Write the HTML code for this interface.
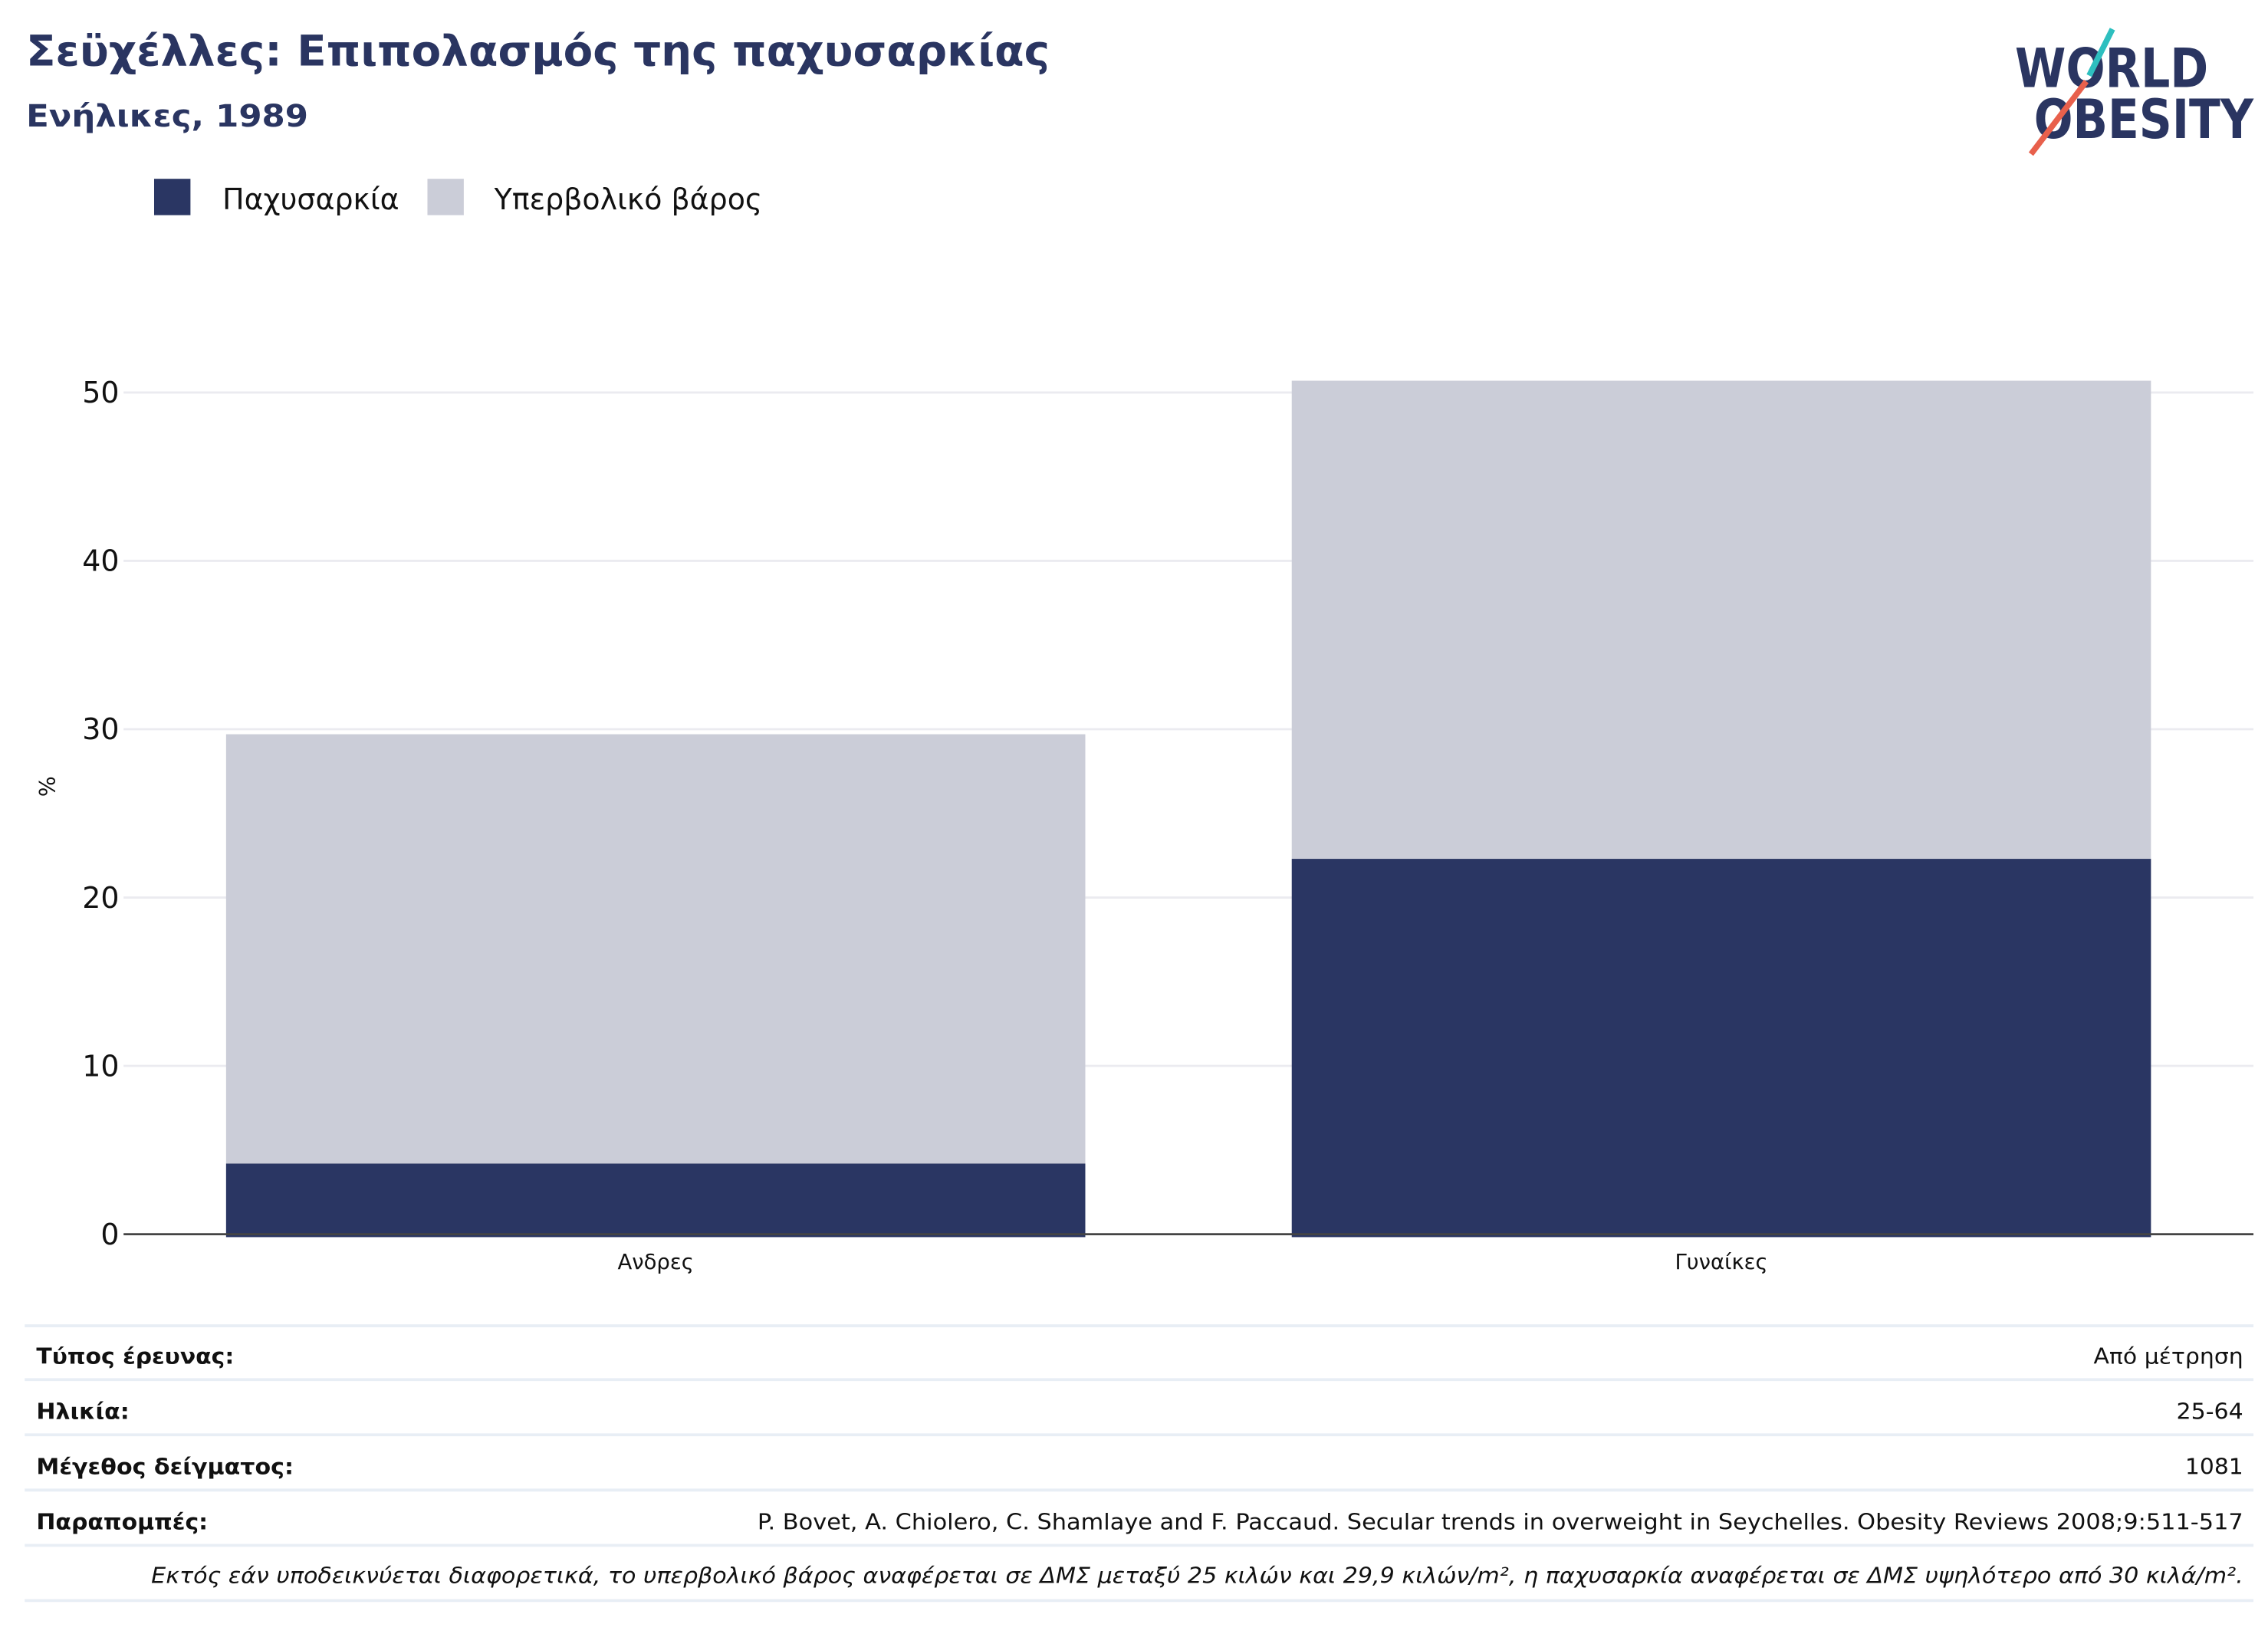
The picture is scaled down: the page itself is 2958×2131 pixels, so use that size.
<!DOCTYPE html>
<html><head><meta charset="utf-8"><style>
html,body{margin:0;padding:0;background:#fff;}
svg{display:block;font-family:"DejaVu Sans","Liberation Sans",sans-serif;}
</style></head><body>
<svg id="chart" width="2958" height="2131" viewBox="0 0 1560 1124" preserveAspectRatio="none" xmlns="http://www.w3.org/2000/svg">
<text x="18" y="45" font-size="29" font-weight="bold" fill="#2a3561" textLength="704" lengthAdjust="spacingAndGlyphs">Σεϋχέλλες: Επιπολασμός της παχυσαρκίας</text>
<text x="18" y="87" font-size="21" font-weight="bold" fill="#2a3561" textLength="194" lengthAdjust="spacingAndGlyphs">Ενήλικες, 1989</text>
<g>
<text x="1386" y="60" font-size="37" font-weight="bold" fill="#2a3561" textLength="133" lengthAdjust="spacingAndGlyphs">WORLD</text>
<text x="1399" y="95" font-size="37" font-weight="bold" fill="#2a3561" textLength="151" lengthAdjust="spacingAndGlyphs">OBESITY</text>
<line x1="1453" y1="20" x2="1437" y2="52" stroke="#2ebfbf" stroke-width="4"/>
<line x1="1435" y1="56" x2="1397" y2="106" stroke="#e8604c" stroke-width="4"/>
</g>
<g>
<rect x="106" y="123" width="25" height="25" fill="#2a3663"/>
<text x="153" y="144" font-size="20" fill="#111">Παχυσαρκία</text>
<rect x="294" y="123" width="25" height="25" fill="#cbcdd8"/>
<text x="340" y="144" font-size="20" fill="#111">Υπερβολικό βάρος</text>
</g>
<g id="plot"></g>
<text transform="translate(38,541) rotate(-90)" text-anchor="middle" font-size="15" fill="#111">%</text>
<g font-size="15" fill="#111">
<line x1="17" y1="912" x2="1550" y2="912" stroke="#e8eef5" stroke-width="2"/>
<line x1="17" y1="949" x2="1550" y2="949" stroke="#e8eef5" stroke-width="2"/>
<line x1="17" y1="987" x2="1550" y2="987" stroke="#e8eef5" stroke-width="2"/>
<line x1="17" y1="1025" x2="1550" y2="1025" stroke="#e8eef5" stroke-width="2"/>
<line x1="17" y1="1063" x2="1550" y2="1063" stroke="#e8eef5" stroke-width="2"/>
<line x1="17" y1="1101" x2="1550" y2="1101" stroke="#e8eef5" stroke-width="2"/>
<text x="25" y="938" font-weight="bold" textLength="136" lengthAdjust="spacingAndGlyphs">Τύπος έρευνας:</text>
<text x="1543" y="938" text-anchor="end" textLength="103" lengthAdjust="spacingAndGlyphs">Από μέτρηση</text>
<text x="25" y="976" font-weight="bold" textLength="64" lengthAdjust="spacingAndGlyphs">Ηλικία:</text>
<text x="1543" y="976" text-anchor="end" textLength="46" lengthAdjust="spacingAndGlyphs">25-64</text>
<text x="25" y="1014" font-weight="bold" textLength="177" lengthAdjust="spacingAndGlyphs">Μέγεθος δείγματος:</text>
<text x="1543" y="1014" text-anchor="end" textLength="40" lengthAdjust="spacingAndGlyphs">1081</text>
<text x="25" y="1052" font-weight="bold" textLength="118" lengthAdjust="spacingAndGlyphs">Παραπομπές:</text>
<text x="1543" y="1052" text-anchor="end" textLength="1022" lengthAdjust="spacingAndGlyphs">P. Bovet, A. Chiolero, C. Shamlaye and F. Paccaud. Secular trends in overweight in Seychelles. Obesity Reviews 2008;9:511-517</text>
<text x="1543" y="1089" text-anchor="end" font-style="italic" font-size="15" textLength="1439" lengthAdjust="spacingAndGlyphs">Εκτός εάν υποδεικνύεται διαφορετικά, το υπερβολικό βάρος αναφέρεται σε ΔΜΣ μεταξύ 25 κιλών και 29,9 κιλών/m², η παχυσαρκία αναφέρεται σε ΔΜΣ υψηλότερο από 30 κιλά/m².</text>
</g>
</svg>
<script>
const categories = ["Ανδρες", "Γυναίκες"];
const obesity = [4.2, 22.3];
const overweight = [25.5, 28.4];
const yTicks = [0, 10, 20, 30, 40, 50];

const NS = "http://www.w3.org/2000/svg";
const plot = document.getElementById("plot");
const y0 = 849, yPerUnit = (849 - 270) / 50;
function yScale(v) { return y0 - v * yPerUnit; }
const bandStart = 85, bandWidth = 733, barW = 591;
function xBand(i) { return bandStart + i * bandWidth + (bandWidth - barW) / 2 - 0.5; }
function mk(tag, attrs) { const e = document.createElementNS(NS, tag); for (const k in attrs) e.setAttribute(k, attrs[k]); plot.appendChild(e); return e; }

yTicks.forEach(t => {
  if (t !== 0) {
    const g = mk("line", {x1: 85, x2: 1550, y1: yScale(t), y2: yScale(t), stroke: "#ebebf0", "stroke-width": 1.5});
    
    
  }
  const l = mk("text", {x: 82, y: yScale(t) + 7, "text-anchor": "end", "font-size": 20, fill: "#111"});
  l.textContent = t;
  
  
});

categories.forEach((c, i) => {
  const x = xBand(i);
  const r1 = mk("rect", {x: x, y: yScale(obesity[i]), width: barW, height: yScale(0) - yScale(obesity[i]) + 2, fill: "#2a3663"});
  
  
  const tot = obesity[i] + overweight[i];
  const r2 = mk("rect", {x: x, y: yScale(tot), width: barW, height: yScale(obesity[i]) - yScale(tot), fill: "#cbcdd8"});
  
  
  const t = mk("text", {x: x + barW / 2, y: 873, "text-anchor": "middle", "font-size": 14.5, fill: "#111"});
  t.textContent = c;
  
  
});

const ax = mk("line", {x1: 85, x2: 1550, y1: y0, y2: y0, stroke: "#444", "stroke-width": 1.5});


</script>
</body></html>
